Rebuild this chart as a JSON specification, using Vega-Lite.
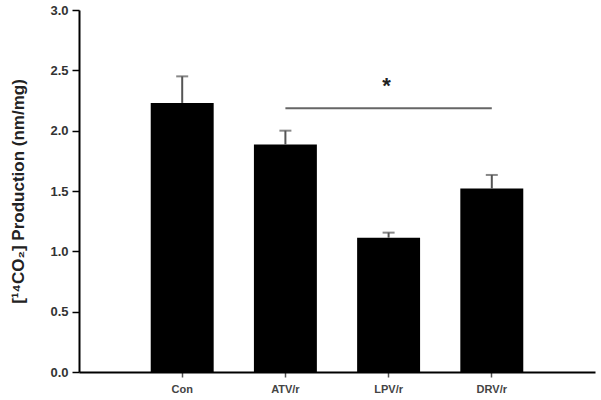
{
  "$schema": "https://vega.github.io/schema/vega-lite/v6.json",
  "autosize": "none",
  "width": 516,
  "height": 362,
  "padding": {"left": 79, "top": 10, "right": 6, "bottom": 28},
  "background": "white",
  "config": {
    "view": {"stroke": null},
    "font": "Liberation Sans"
  },
  "datasets": {
    "bars": [
      {"group": "Con", "mean": 2.23, "upper": 2.45},
      {"group": "ATV/r", "mean": 1.885, "upper": 2.0},
      {"group": "LPV/r", "mean": 1.113, "upper": 1.155},
      {"group": "DRV/r", "mean": 1.52, "upper": 1.633}
    ],
    "sig": [
      {"from": "ATV/r", "to": "DRV/r", "mid": "LPV/r", "y": 2.185, "ystar": 2.4, "label": "*"}
    ]
  },
  "encoding": {
    "x": {
      "field": "group",
      "type": "nominal",
      "sort": ["Con", "ATV/r", "LPV/r", "DRV/r"],
      "scale": {"domain": ["Con", "ATV/r", "LPV/r", "DRV/r"], "paddingInner": 0.39, "paddingOuter": 0.695},
      "axis": {
        "title": null,
        "labelAngle": 0,
        "labelFont": "Liberation Sans",
        "labelFontWeight": "bold",
        "labelFontSize": 11,
        "labelColor": "#444444",
        "labelPadding": 6,
        "tickSize": 5,
        "tickColor": "#555555",
        "tickWidth": 1.5,
        "domainColor": "#000000",
        "domainWidth": 2,
        "grid": false
      }
    }
  },
  "layer": [
    {
      "data": {"name": "bars"},
      "mark": {"type": "bar", "color": "#000000"},
      "encoding": {
        "y": {
          "field": "mean",
          "type": "quantitative",
          "scale": {"domain": [0, 3], "nice": false},
          "axis": {
            "title": "[¹⁴CO₂] Production (nm/mg)",
            "titleFont": "Liberation Sans",
            "titleFontWeight": "bold",
            "titleFontSize": 17,
            "titleColor": "#222222",
            "titleX": -52,
            "titleY": 181,
            "values": [0, 0.5, 1, 1.5, 2, 2.5, 3],
            "format": ".1f",
            "labelFont": "Liberation Sans",
            "labelFontWeight": "bold",
            "labelFontSize": 13,
            "labelColor": "#333333",
            "labelPadding": 4,
            "tickSize": 7,
            "tickColor": "#000000",
            "tickWidth": 1.5,
            "domainColor": "#000000",
            "domainWidth": 2,
            "grid": false
          }
        }
      }
    },
    {
      "data": {"name": "bars"},
      "mark": {"type": "rule", "color": "#555555", "strokeWidth": 2},
      "encoding": {
        "y": {"field": "mean", "type": "quantitative"},
        "y2": {"field": "upper"}
      }
    },
    {
      "data": {"name": "bars"},
      "mark": {"type": "tick", "color": "#555555", "thickness": 2, "size": 12, "orient": "horizontal"},
      "encoding": {
        "y": {"field": "upper", "type": "quantitative"}
      }
    },
    {
      "data": {"name": "sig"},
      "mark": {"type": "rule", "color": "#666666", "strokeWidth": 2},
      "encoding": {
        "x": {"field": "from", "type": "nominal"},
        "x2": {"field": "to"},
        "y": {"field": "y", "type": "quantitative"}
      }
    },
    {
      "data": {"name": "sig"},
      "mark": {"type": "text", "font": "Liberation Sans", "fontWeight": "bold", "fontSize": 22, "color": "#222222", "baseline": "middle", "dy": 4, "dx": -2},
      "encoding": {
        "x": {"field": "mid", "type": "nominal"},
        "y": {"field": "ystar", "type": "quantitative"},
        "text": {"field": "label"}
      }
    }
  ]
}
